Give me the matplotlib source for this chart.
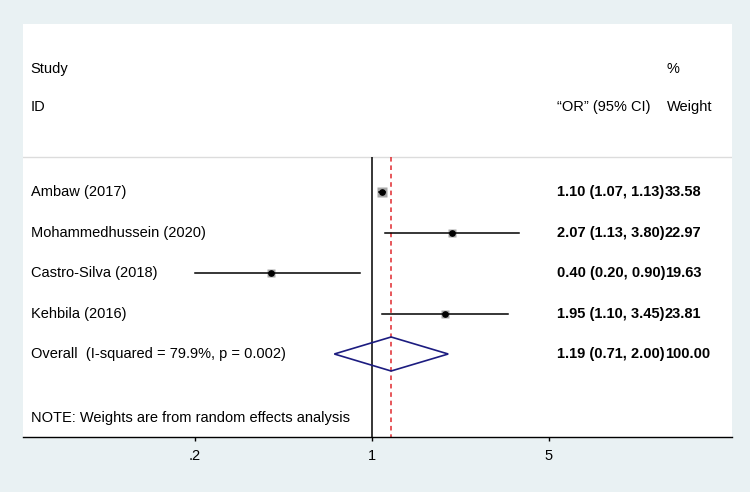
import numpy as np
import matplotlib.pyplot as plt
from matplotlib.ticker import FixedLocator, FixedFormatter

plt.rcParams['font.family'] = ['Liberation Sans', 'DejaVu Sans']

# study data
studies = ['Ambaw (2017)', 'Mohammedhussein (2020)', 'Castro-Silva (2018)', 'Kehbila (2016)']
odds = [1.10, 2.07, 0.40, 1.95]
ci_low = [1.07, 1.13, 0.20, 1.10]
ci_high = [1.13, 3.80, 0.90, 3.45]
weights = [33.58, 22.97, 19.63, 23.81]

overall_label = 'Overall  (I-squared = 79.9%, p = 0.002)'
overall_or = 1.19
overall_low = 0.71
overall_high = 2.00
overall_weight = 100.00

tick_vals = [0.2, 1, 5]
tick_labels = ['.2', '1', '5']

note = 'NOTE: Weights are from random effects analysis'

fig = plt.figure(figsize=(7.5, 4.92), dpi=100, facecolor='#e9f1f3')
ax = fig.add_axes([23/750, 55/492, 709/750, 413/492])
ax.set_facecolor('white')
ax.set_xscale('log')
ax.set_xlim(0.04187, 26.4)
ax.set_ylim(6.05, -4.15)

for s in ['top', 'left', 'right']:
    ax.spines[s].set_visible(False)
ax.spines['bottom'].set_linewidth(1.0)
ax.xaxis.set_major_locator(FixedLocator(tick_vals))
ax.xaxis.set_major_formatter(FixedFormatter(tick_labels))
ax.xaxis.set_minor_locator(FixedLocator([]))
ax.tick_params(axis='x', length=3, width=1, pad=6, labelsize=10.5)
ax.set_yticks([])

fs = 10.5
rows = np.arange(len(studies))
over_row = len(studies)
line_top = -0.86

# header separator and reference lines
ax.axhline(line_top, color='#dcdcdc', lw=1)
ax.vlines(1, line_top, 6.05, color='black', lw=1.1)
ax.vlines(overall_or, line_top, 6.05, color='#e0282e', lw=1.1, linestyles=(0, (3, 2.5)))

# study estimates
for i in rows:
    ax.plot([ci_low[i], ci_high[i]], [i, i], color='black', lw=1.1, zorder=3)
    ax.plot(odds[i], i, marker='s', ms=1.25 * np.sqrt(weights[i]), color='#a8a8a8', mec='none', zorder=2)
    ax.plot(odds[i], i, marker='o', ms=3.8, color='black', zorder=4)

# overall diamond
h = 0.42
ax.fill([overall_low, overall_or, overall_high, overall_or, overall_low],
        [over_row, over_row - h, over_row, over_row + h, over_row],
        facecolor='none', edgecolor='#1c1c80', lw=1.2, zorder=3)

# text columns
tr = ax.get_yaxis_transform()
x_lab, x_es, x_w = 0.0106, 0.753, 0.905
ax.text(x_lab, -3.05, 'Study', transform=tr, va='center', fontsize=fs)
ax.text(x_lab, -2.1, 'ID', transform=tr, va='center', fontsize=fs)
ax.text(x_es, -2.1, '\u201cOR\u201d (95% CI)', transform=tr, va='center', fontsize=fs)
ax.text(0.908, -3.05, '%', transform=tr, va='center', fontsize=fs)
ax.text(0.908, -2.1, 'Weight', transform=tr, va='center', fontsize=fs)

for i in rows:
    ax.text(x_lab, i, studies[i], transform=tr, va='center', fontsize=fs)
    ax.text(x_es, i, '%.2f (%.2f, %.2f)' % (odds[i], ci_low[i], ci_high[i]),
            transform=tr, va='center', fontsize=fs, fontweight='bold')
    ax.text(x_w, i, '%.2f' % weights[i], transform=tr, va='center', fontsize=fs, fontweight='bold')

ax.text(x_lab, over_row, overall_label, transform=tr, va='center', fontsize=fs)
ax.text(x_es, over_row, '%.2f (%.2f, %.2f)' % (overall_or, overall_low, overall_high),
        transform=tr, va='center', fontsize=fs, fontweight='bold')
ax.text(x_w, over_row, '%.2f' % overall_weight, transform=tr, va='center', fontsize=fs, fontweight='bold')

ax.text(x_lab, 5.58, note, transform=tr, va='center', fontsize=fs)

fig.savefig('out.png', dpi=100, facecolor=fig.get_facecolor())
